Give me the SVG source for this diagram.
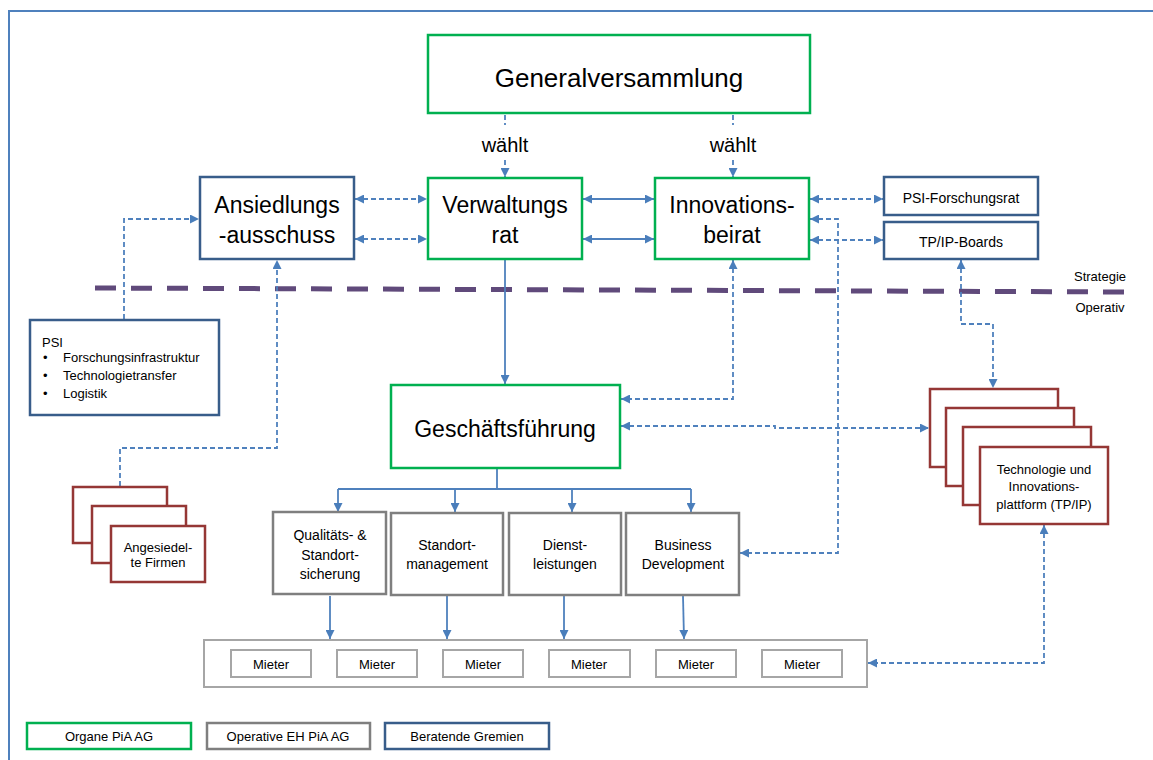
<svg xmlns="http://www.w3.org/2000/svg" width="1153" height="760" viewBox="0 0 1153 760">
<style>
.g{fill:#fff;stroke:#00B050;stroke-width:2.5}
.b{fill:#fff;stroke:#385D8A;stroke-width:2.5}
.o{fill:#fff;stroke:#7F7F7F;stroke-width:2.5}
.l{fill:#fff;stroke:#A6A6A6;stroke-width:2}
.r{fill:#fff;stroke:#953735;stroke-width:2.5}
text{font-family:"Liberation Sans",Arial,sans-serif;fill:#000;text-anchor:middle}
.big{font-size:23px}
.sm{font-size:13px}
.md{font-size:14px}
.c{fill:none;stroke:#4F81BD;stroke-width:1.8}
.d{stroke-dasharray:5 3}
.e{marker-end:url(#a)}
.s{marker-start:url(#a)}
</style>
<defs>
<marker id="a" viewBox="0 0 10 10" refX="10" refY="5" markerWidth="9" markerHeight="9" markerUnits="userSpaceOnUse" orient="auto-start-reverse">
<path d="M0,0 L10,5 L0,10 z" fill="#4A7EBB"/>
</marker>
</defs>
<rect width="1153" height="760" fill="#fff"/>
<path d="M9 760 V11 H1153" fill="none" stroke="#4F81BD" stroke-width="2"/>
<path d="M95 288 L1133 292" fill="none" stroke="#604A7B" stroke-width="5" stroke-dasharray="21 15"/>
<text class="sm" x="1100" y="281">Strategie</text>
<text class="sm" x="1100" y="312">Operativ</text>

<g id="connectors">
<path class="c d e" d="M505 115 V125 M505 160 V177"/>
<path class="c d e" d="M733 115 V125 M733 160 V177"/>
<path class="c e s" d="M583 199 H654"/>
<path class="c e s" d="M583 239 H654"/>
<path class="c d e s" d="M355 199 H427"/>
<path class="c d e s" d="M355 239 H427"/>
<path class="c d e" d="M124 319 V219 H199"/>
<path class="c d e" d="M120 486 V448 H277 V260"/>
<path class="c e" d="M505 260 V384"/>
<path class="c d e s" d="M733 260 V399 H621"/>
<path class="c d e s" d="M810 219 H838 V553 H740"/>
<path class="c d e s" d="M810 199 H883"/>
<path class="c d e s" d="M810 240 H883"/>
<path class="c d e s" d="M961 260 V324 H993 V388"/>
<path class="c d e s" d="M621 426 H775 V428 H929"/>
<path class="c d e s" d="M1044 525 V663 H868"/>
<path class="c" d="M497 469 V489 M338 489 H691"/>
<path class="c e" d="M338 489 V512"/>
<path class="c e" d="M455 489 V512"/>
<path class="c e" d="M572 489 V512"/>
<path class="c e" d="M691 489 V512"/>
<path class="c e" d="M330 596 V639"/>
<path class="c e" d="M447 596 V639"/>
<path class="c e" d="M564 596 V639"/>
<path class="c e" d="M683 596 L684 639"/>
</g>
<text x="505" y="152" style="font-size:20px">wählt</text>
<text x="733" y="152" style="font-size:20px">wählt</text>

<g id="generalversammlung">
<rect class="g" x="428" y="35" width="382" height="78"/>
<text x="619" y="87" style="font-size:26px">Generalversammlung</text>
</g>
<g id="verwaltungsrat">
<rect class="g" x="428" y="178" width="154" height="81"/>
<text class="big" x="505" y="213">Verwaltungs</text>
<text class="big" x="505" y="243">rat</text>
</g>
<g id="innovationsbeirat">
<rect class="g" x="655" y="178" width="154" height="81"/>
<text class="big" x="732" y="213">Innovations-</text>
<text class="big" x="732" y="243">beirat</text>
</g>
<g id="ansiedlungsausschuss">
<rect class="b" x="200" y="177" width="154" height="82"/>
<text class="big" x="277" y="213">Ansiedlungs</text>
<text class="big" x="277" y="243">-ausschuss</text>
</g>
<g id="psi-forschungsrat">
<rect class="b" x="884" y="177" width="154" height="38"/>
<text class="md" x="961" y="203">PSI-Forschungsrat</text>
</g>
<g id="tpip-boards">
<rect class="b" x="884" y="222" width="154" height="37"/>
<text class="md" x="961" y="247">TP/IP-Boards</text>
</g>
<g id="psi">
<rect class="b" x="30" y="320" width="189" height="95"/>
<text class="sm" x="42" y="347" style="text-anchor:start">PSI</text>
<text class="sm" x="43" y="362" style="text-anchor:start">•</text>
<text class="sm" x="63" y="362" style="text-anchor:start">Forschungsinfrastruktur</text>
<text class="sm" x="43" y="380" style="text-anchor:start">•</text>
<text class="sm" x="63" y="380" style="text-anchor:start">Technologietransfer</text>
<text class="sm" x="43" y="398" style="text-anchor:start">•</text>
<text class="sm" x="63" y="398" style="text-anchor:start">Logistik</text>
</g>
<g id="angesiedelte-firmen">
<rect class="r" x="73" y="487" width="94" height="56"/>
<rect class="r" x="92" y="506" width="94" height="57"/>
<rect class="r" x="111" y="526" width="94" height="56"/>
<text class="sm" x="158" y="552">Angesiedel-</text>
<text class="sm" x="158" y="567">te Firmen</text>
</g>
<g id="geschaeftsfuehrung">
<rect class="g" x="391" y="385" width="229" height="83"/>
<text class="big" x="505" y="437">Geschäftsführung</text>
</g>
<g id="tpip">
<rect class="r" x="930" y="389" width="128" height="78"/>
<rect class="r" x="946" y="408" width="128" height="78"/>
<rect class="r" x="963" y="427" width="128" height="78"/>
<rect class="r" x="980" y="447" width="128" height="77"/>
<text class="sm" x="1044" y="474">Technologie und</text>
<text class="sm" x="1044" y="491">Innovations-</text>
<text class="sm" x="1044" y="509">plattform (TP/IP)</text>
</g>
<g id="qualitaet">
<rect class="o" x="273" y="512" width="113" height="82"/>
<text class="md" x="330" y="540">Qualitäts- &amp;</text>
<text class="md" x="330" y="560">Standort-</text>
<text class="md" x="330" y="579">sicherung</text>
</g>
<g id="standortmanagement">
<rect class="o" x="391" y="513" width="112" height="82"/>
<text class="md" x="447" y="550">Standort-</text>
<text class="md" x="447" y="569">management</text>
</g>
<g id="dienstleistungen">
<rect class="o" x="509" y="513" width="112" height="82"/>
<text class="md" x="565" y="550">Dienst-</text>
<text class="md" x="565" y="569">leistungen</text>
</g>
<g id="business-development">
<rect class="o" x="626" y="513" width="113" height="82"/>
<text class="md" x="683" y="550">Business</text>
<text class="md" x="683" y="569">Development</text>
</g>
<g id="mieter">
<rect class="l" x="204" y="640" width="663" height="47"/>
<rect class="l" x="231" y="650" width="80" height="27"/>
<rect class="l" x="337" y="650" width="80" height="27"/>
<rect class="l" x="443" y="650" width="80" height="27"/>
<rect class="l" x="549" y="650" width="81" height="27"/>
<rect class="l" x="656" y="650" width="80" height="27"/>
<rect class="l" x="762" y="650" width="80" height="27"/>
<text class="sm" x="271" y="669">Mieter</text>
<text class="sm" x="377" y="669">Mieter</text>
<text class="sm" x="483" y="669">Mieter</text>
<text class="sm" x="589" y="669">Mieter</text>
<text class="sm" x="696" y="669">Mieter</text>
<text class="sm" x="802" y="669">Mieter</text>
</g>
<g id="legend">
<rect class="g" x="27" y="723" width="164" height="26"/>
<text class="sm" x="109" y="741">Organe PiA AG</text>
<rect class="o" x="207" y="723" width="163" height="26"/>
<text class="sm" x="288" y="741">Operative EH PiA AG</text>
<rect class="b" x="385" y="723" width="164" height="26"/>
<text class="sm" x="467" y="741">Beratende Gremien</text>
</g>
</svg>
